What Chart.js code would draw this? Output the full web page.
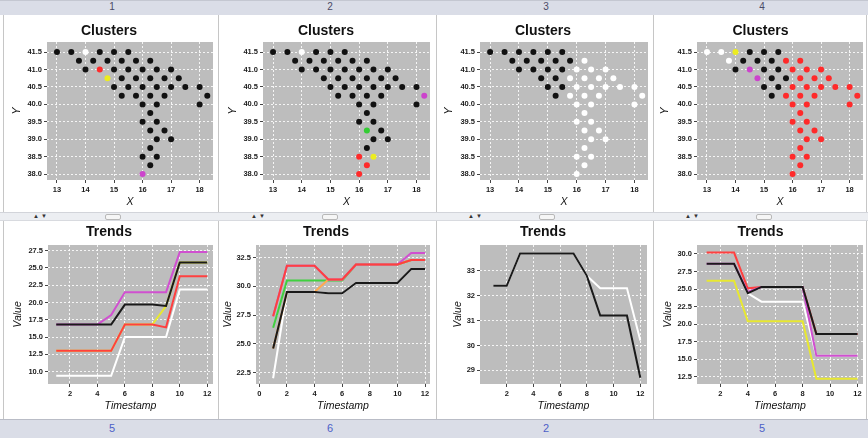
<!DOCTYPE html>
<html>
<head>
<meta charset="utf-8">
<script src="https://cdn.jsdelivr.net/npm/chart.js@4.4.1/dist/chart.umd.min.js"></script>
<style>
html,body{margin:0;padding:0;background:#fff;}
body{width:868px;height:438px;position:relative;overflow:hidden;font-family:"Liberation Sans",Arial,sans-serif;}
.hdr{position:absolute;left:0;top:0;width:868px;height:15px;background:#dadde7;border-top:1px solid #c4c7d1;box-sizing:border-box;}
.ftr{position:absolute;left:0;top:419px;width:868px;height:19px;background:#dadde7;border-top:1px solid #b9bcc6;box-sizing:border-box;}
.num{position:absolute;width:40px;margin-left:-20px;text-align:center;font-size:10px;}
.vl{position:absolute;width:1px;background:#c6c6c6;top:15px;height:404px;}
.strip{position:absolute;left:0;top:212px;width:868px;height:9px;background:#eceef2;border-top:1px solid #d2d4da;border-bottom:1px solid #d8dadf;box-sizing:border-box;}
.arr{position:absolute;top:213px;font-size:6px;color:#333;letter-spacing:2px;}
.hdl{position:absolute;top:214px;width:14px;height:4px;border:1px solid #b8b8b8;border-radius:2px;background:#f6f6f6;}
.wrap{position:absolute;}
</style>
</head>
<body>
<div class="hdr"></div>
<div class="num" style="left:112px;top:1px;color:#4a4a66">1</div>
<div class="num" style="left:330px;top:1px;color:#4a4a66">2</div>
<div class="num" style="left:546px;top:1px;color:#4a4a66">3</div>
<div class="num" style="left:762px;top:1px;color:#4a4a66">4</div>
<div class="vl" style="left:3px"></div>
<div class="vl" style="left:218px"></div>
<div class="vl" style="left:436px"></div>
<div class="vl" style="left:653px"></div>
<div class="vl" style="left:866px"></div>
<div class="strip"></div>
<div class="arr" style="left:33px">▲▼</div>
<div class="arr" style="left:251px">▲▼</div>
<div class="arr" style="left:468px">▲▼</div>
<div class="arr" style="left:685px">▲▼</div>
<div class="hdl" style="left:105px"></div>
<div class="hdl" style="left:322px"></div>
<div class="hdl" style="left:539px"></div>
<div class="hdl" style="left:756px"></div>
<div class="ftr"></div>
<div class="num" style="left:112px;top:422px;color:#4d5fc7;font-size:11px">5</div>
<div class="num" style="left:330px;top:422px;color:#4d5fc7;font-size:11px">6</div>
<div class="num" style="left:546px;top:422px;color:#4d5fc7;font-size:11px">2</div>
<div class="num" style="left:762px;top:422px;color:#4d5fc7;font-size:11px">5</div>

<div id="charts"></div>

<script>
// ---------- DATA ----------
// cluster point coordinates (rows from top)
const pointX = [
  13.0,13.5,14.0,14.5,15.0,15.5,
  13.77,14.27,14.77,15.27,15.77,16.27,
  14.0,14.5,15.0,15.5,16.0,16.5,17.0,
  14.77,15.27,15.77,16.27,16.77,17.27,
  15.0,15.5,16.0,16.5,17.0,17.5,18.0,
  15.27,15.77,16.27,16.77,18.27,
  16.0,16.5,18.0,
  16.27,
  16.0,16.5,
  16.27,16.77,
  16.5,17.0,
  16.27,
  16.0,16.5,
  16.27,
  16.0
];
const pointY = [
  41.5,41.5,41.5,41.5,41.5,41.5,
  41.25,41.25,41.25,41.25,41.25,41.25,
  41.0,41.0,41.0,41.0,41.0,41.0,41.0,
  40.75,40.75,40.75,40.75,40.75,40.75,
  40.5,40.5,40.5,40.5,40.5,40.5,40.5,
  40.25,40.25,40.25,40.25,40.25,
  40.0,40.0,40.0,
  39.75,
  39.5,39.5,
  39.25,39.25,
  39.0,39.0,
  38.75,
  38.5,38.5,
  38.25,
  38.0
];
// cluster labels per panel (0 black,1 white,2 red,3 yellow,4 magenta,5 green)
const clusters1 = [0,0,1,0,0,0, 0,0,0,0,0,0, 0,2,0,0,0,0,0, 3,0,0,0,0,0, 0,0,0,0,0,0,0, 0,0,0,0,0, 0,0,0, 0, 0,0, 0,0, 0,0, 0, 0,0, 0, 4];
const clusters2 = [0,0,1,0,0,0, 0,0,0,0,0,0, 0,0,0,0,0,0,0, 0,0,0,0,0,0, 0,0,0,0,0,0,0, 0,0,0,0,4, 0,0,0, 0, 0,0, 5,0, 0,0, 0, 2,3, 2, 2];
const clusters3 = [0,0,0,0,0,0, 0,0,0,0,0,1, 0,0,0,0,1,1,1, 0,0,1,1,1,1, 0,0,1,1,1,1,1, 0,1,1,1,1, 1,1,1, 1, 1,1, 1,1, 1,1, 1, 1,1, 1, 1];
const clusters4 = [1,1,3,0,0,0, 1,0,0,0,2,2, 0,4,0,0,2,2,2, 4,0,0,2,2,2, 0,0,2,2,2,2,2, 0,2,2,2,2, 2,2,2, 2, 2,2, 2,2, 2,2, 2, 2,2, 2, 2];
const clusterXTicks = [13,14,15,16,17,18];
const clusterYTicks = [38.0,38.5,39.0,39.5,40.0,40.5,41.0,41.5];

const timestamps = [1,2,3,4,5,6,7,8,9,10,11,12];
// Trends panel "5" (left)
const t5White   = [9.4,9.4,9.4,9.4,9.4,15.0,15.0,15.0,15.0,21.9,21.9,21.9];
const t5Yellow  = [13.0,13.0,13.0,13.0,13.0,16.8,16.8,16.8,19.5,25.8,25.8,25.8];
const t5Red     = [13.0,13.0,13.0,13.0,13.0,16.8,16.8,16.8,16.4,23.8,23.8,23.8];
const t5Magenta = [16.8,16.8,16.8,16.8,18.2,21.5,21.5,21.5,21.5,27.3,27.3,27.3];
const t5Black   = [16.8,16.8,16.8,16.8,16.8,19.7,19.7,19.7,19.5,25.8,25.8,25.8];
const t5XTicks = [2,4,6,8,10,12];
const t5YTicks = [10.0,12.5,15.0,17.5,20.0,22.5,25.0,27.5];
// Trends panel "6"
const t6White   = [22.0,29.5,29.5,29.5,29.4,29.4,30.3,30.3,30.3,30.3,31.5,31.5];
const t6Green   = [26.4,30.5,30.5,30.5,30.5,30.5,31.9,31.9,31.9,31.9,32.3,32.3];
const t6Orange  = [24.6,29.5,29.5,29.5,30.6,30.6,31.9,31.9,31.9,31.9,32.3,32.3];
const t6Magenta = [27.4,31.8,31.8,31.8,30.6,30.6,31.9,31.9,31.9,31.9,32.9,32.9];
const t6Red     = [27.4,31.8,31.8,31.8,30.6,30.6,31.9,31.9,31.9,31.9,32.3,32.3];
const t6Black   = [24.6,29.5,29.5,29.5,29.4,29.4,30.3,30.3,30.3,30.3,31.5,31.5];
const t6XTicks = [0,2,4,6,8,10,12];
const t6YTicks = [22.5,25.0,27.5,30.0,32.5];
// Trends panel "2"
const t7White = [32.4,32.4,33.7,33.7,33.7,33.7,33.7,32.8,32.3,32.3,32.3,30.2];
const t7Black = [32.4,32.4,33.7,33.7,33.7,33.7,33.7,32.8,31.2,31.2,31.2,28.7];
const t7XTicks = [2,4,6,8,10,12];
const t7YTicks = [29,30,31,32,33];
// Trends panel "5" (right)
const t8White   = [28.6,28.6,28.6,24.4,23.2,23.2,23.2,23.2,15.5,15.5,15.5,15.5];
const t8Yellow  = [26.2,26.2,26.2,20.4,20.4,20.4,20.4,20.4,12.2,12.2,12.2,12.2];
const t8Red     = [30.2,30.2,30.2,25.1,25.3,25.3,25.3,25.3,18.6,18.6,18.6,18.6];
const t8Magenta = [28.6,28.6,28.6,24.6,25.3,25.3,25.3,25.3,15.5,15.5,15.5,15.5];
const t8Black   = [28.6,28.6,28.6,24.4,25.3,25.3,25.3,25.3,18.6,18.6,18.6,18.6];
const t8XTicks = [2,4,6,8,10,12];
const t8YTicks = [12.5,15.0,17.5,20.0,22.5,25.0,27.5,30.0];

// ---------- STYLE ----------
const palette = ['#111111','#ffffff','#ff2a2a','#ecec20','#cc44cc','#33cc33','#ffaa44'];
const C = {black:'#1a1a1a', white:'#ffffff', red:'#ff4040', yellow:'#e8e830', magenta:'#d050d0', green:'#40d040', orange:'#ffaa50'};
const FONT = '"Liberation Sans", Arial, sans-serif';

const bgPlugin = {
  id:'plotbg',
  beforeDraw(chart){
    const {ctx, chartArea:a} = chart;
    ctx.save(); ctx.fillStyle = '#bdbdbd';
    ctx.fillRect(a.left, a.top, a.right-a.left, a.bottom-a.top);
    ctx.restore();
  }
};

function scaleOpts(axis, min, max, ticks, fmt, title, size, titlePad){
  const o = {
    type:'linear', min, max,
    border:{display:false, dash:[2,2]},
    grid:{color:'rgba(255,255,255,0.85)', lineWidth:1, drawTicks:true, tickLength:3, tickColor:'#444', tickBorderDash:[]},
    ticks:{autoSkip:false, maxRotation:0, padding:2, color:'#1a1a1a',
      font:{family:FONT, size:7.5, weight:'bold'},
      callback:(v)=>fmt(v)},
    afterBuildTicks:(s)=>{ s.ticks = ticks.map(v=>({value:v})); },
    title:{display:true, text:title, color:'#111', font:{family:FONT, size:10.5, style:'italic'}, padding:titlePad}
  };
  if(axis==='x'){ o.afterFit = (s)=>{ s.height = size; }; }
  else { o.afterFit = (s)=>{ s.width = size; }; }
  return o;
}

function makeChart(p){
  const wrap = document.createElement('div');
  wrap.className = 'wrap';
  wrap.style.left = p.left+'px'; wrap.style.top = p.top+'px';
  wrap.style.width = p.w+'px'; wrap.style.height = p.h+'px';
  const cv = document.createElement('canvas');
  cv.width = p.w; cv.height = p.h;
  cv.style.width = p.w+'px'; cv.style.height = p.h+'px';
  wrap.appendChild(cv);
  document.getElementById('charts').appendChild(wrap);
  new Chart(cv.getContext('2d'), {
    type: p.type,
    data: {datasets: p.datasets},
    options: {
      responsive:false, animation:false, devicePixelRatio:1,
      layout:{padding:{left:0, right:p.rp, top:0, bottom:0}},
      plugins:{
        legend:{display:false}, tooltip:{enabled:false},
        title:{display:true, text:p.title, color:'#111',
          font:{family:FONT, size:14, weight:'bold'},
          padding:p.titlePad}
      },
      scales:{
        x: scaleOpts('x', p.xmin, p.xmax, p.xticks, p.xfmt, p.xtitle, 32, {top:0,bottom:4}),
        y: scaleOpts('y', p.ymin, p.ymax, p.yticks, p.yfmt, p.ytitle, p.yw, {top:p.ytp,bottom:0})
      }
    },
    plugins:[bgPlugin]
  });
}

function clusterDatasets(labels){
  return [{
    data: pointX.map((x,i)=>({x, y:pointY[i]})),
    backgroundColor: labels.map(c=>palette[c]),
    borderWidth:0, pointRadius:3, pointHoverRadius:3
  }];
}
// later entries in the list passed here are drawn on top
function lineDS(list){
  return list.map(([vals,color], i)=>({
    data: timestamps.map((t,k)=>({x:t, y:vals[k]})), borderColor:color,
    borderWidth:2, pointRadius:0, tension:0, fill:false, order:list.length-i}));
}
const f1 = v=>v.toFixed(1), f0 = v=>String(Math.round(v));

const topPad = {top:6.6, bottom:2.6};
const botPad = {top:1.6, bottom:4.6};
const clusterCommon = {type:'scatter', title:'Clusters', xmin:12.65, xmax:18.47, ymin:37.83, ymax:41.79,
  xticks:clusterXTicks, yticks:clusterYTicks, xfmt:f0, yfmt:f1, xtitle:'X', ytitle:'Y', titlePad:topPad, top:16, h:196};

const panels = [
  Object.assign({}, clusterCommon, {left:5,   w:214, yw:42, rp:6, ytp:6, datasets:clusterDatasets(clusters1)}),
  Object.assign({}, clusterCommon, {left:222, w:216, yw:41, rp:8, ytp:5, datasets:clusterDatasets(clusters2)}),
  Object.assign({}, clusterCommon, {left:438, w:216, yw:42, rp:6, ytp:5, datasets:clusterDatasets(clusters3)}),
  Object.assign({}, clusterCommon, {left:658, w:210, yw:39, rp:5, ytp:1, datasets:clusterDatasets(clusters4)}),
  {type:'line', title:'Trends', left:5, top:222, w:216, h:194, yw:43, rp:8, ytp:7, titlePad:botPad,
   xmin:0.4, xmax:12.42, ymin:8.2, ymax:28.33, xticks:t5XTicks, yticks:t5YTicks, xfmt:f0, yfmt:f1,
   xtitle:'Timestamp', ytitle:'Value',
   datasets:lineDS([[t5White,C.white],[t5Yellow,C.yellow],[t5Red,C.red],[t5Magenta,C.magenta],[t5Black,C.black]])},
  {type:'line', title:'Trends', left:222, top:222, w:216, h:194, yw:34, rp:8, ytp:0, titlePad:botPad,
   xmin:-0.24, xmax:12.36, ymin:21.5, ymax:33.6, xticks:t6XTicks, yticks:t6YTicks, xfmt:f0, yfmt:f1,
   xtitle:'Timestamp', ytitle:'Value',
   datasets:lineDS([[t6White,C.white],[t6Green,C.green],[t6Orange,C.orange],[t6Magenta,C.magenta],[t6Red,C.red],[t6Black,C.black]])},
  {type:'line', title:'Trends', left:439, top:222, w:216, h:194, yw:41, rp:8, ytp:13, titlePad:botPad,
   xmin:0.0, xmax:12.5, ymin:28.45, ymax:34.04, xticks:t7XTicks, yticks:t7YTicks, xfmt:f0, yfmt:f0,
   xtitle:'Timestamp', ytitle:'Value',
   datasets:lineDS([[t7White,C.white],[t7Black,C.black]])},
  {type:'line', title:'Trends', left:658, top:222, w:210, h:194, yw:39, rp:5, ytp:4, titlePad:botPad,
   xmin:0.3, xmax:12.4, ymin:11.46, ymax:31.28, xticks:t8XTicks, yticks:t8YTicks, xfmt:f0, yfmt:f1,
   xtitle:'Timestamp', ytitle:'Value',
   datasets:lineDS([[t8White,C.white],[t8Yellow,C.yellow],[t8Red,C.red],[t8Magenta,C.magenta],[t8Black,C.black]])}
];
panels.forEach(makeChart);
</script>
</body>
</html>
